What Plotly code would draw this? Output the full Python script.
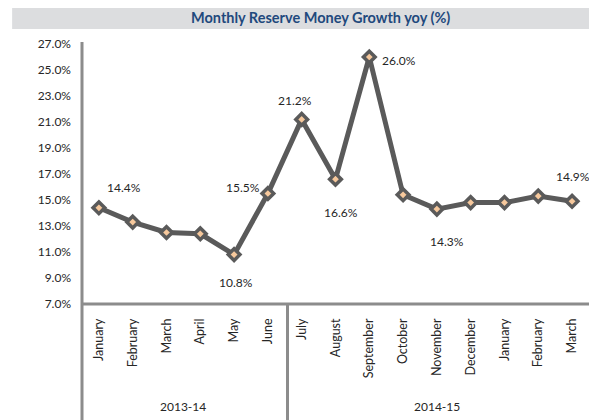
import plotly.graph_objects as go

months = ["January", "February", "March", "April", "May", "June", "July", "August",
          "September", "October", "November", "December", "January", "February", "March"]
growth = [14.4, 13.3, 12.5, 12.4, 10.8, 15.5, 21.2, 16.6, 26.0, 15.4, 14.3, 14.8, 14.8, 15.3, 14.9]
fiscal_years = ["2013-14", "2014-15"]
fy_months = [6, 9]  # number of months in each fiscal-year group
y_ticks = [7, 9, 11, 13, 15, 17, 19, 21, 23, 25, 27]

# which points get a data label, and pixel offset of that label
labelled = {0: (25, 20), 4: (2, -28), 5: (-25, 6), 6: (-7, 19), 7: (6, -33),
            8: (30, -3), 10: (10, -32), 14: (1, 25)}

xs = list(range(len(months)))
line_grey = "#5a5a5a"
axis_grey = "#8c8c8c"
font = "Lato, 'Open Sans', sans-serif"

fig = go.Figure()
fig.add_trace(go.Scatter(
    x=xs, y=growth, mode="lines+markers",
    line=dict(color=line_grey, width=5),
    marker=dict(symbol="diamond", size=9, color="#f6c89c",
                line=dict(color=line_grey, width=3.5)),
    hoverinfo="skip", showlegend=False,
))

for i, (dx, dy) in labelled.items():
    fig.add_annotation(x=xs[i], y=growth[i], text=f"{growth[i]:.1f}%",
                       showarrow=False, xshift=dx, yshift=dy,
                       xanchor="center", yanchor="middle",
                       font=dict(family=font, size=12, color="#262626"))

# fiscal year group labels and dividers
start = 0
for k, (fy, n) in enumerate(zip(fiscal_years, fy_months)):
    centre = start + (n - 1) / 2
    fig.add_annotation(x=centre, y=-0.396, yref="paper", text=fy, showarrow=False,
                       xanchor="center", yanchor="middle",
                       font=dict(family=font, size=12, color="#262626"))
    if k < len(fiscal_years) - 1:
        end = start + n - 0.5 + 0.08
        fig.add_shape(type="line", x0=end, x1=end, y0=0, y1=-0.5, yref="paper",
                      line=dict(color=axis_grey, width=3))
    start += n

# category table frame and y axis line
fig.add_shape(type="line", xref="paper", yref="paper", x0=0, x1=1, y0=0, y1=0,
              line=dict(color=axis_grey, width=3))
fig.add_shape(type="line", xref="paper", yref="paper", x0=0, x1=0, y0=1.008, y1=-0.5,
              line=dict(color=axis_grey, width=3))
fig.add_shape(type="line", xref="paper", yref="paper", x0=1, x1=1, y0=0, y1=-0.5,
              line=dict(color=axis_grey, width=3))

# title band
fig.add_shape(type="rect", xref="paper", yref="paper", x0=-0.137, x1=1.02,
              y0=1.058, y1=1.15, fillcolor="#dcdddf", line=dict(width=0), layer="below")
fig.add_annotation(xref="paper", yref="paper", x=0.467, y=1.1, showarrow=False,
                   xanchor="center", yanchor="middle",
                   text="<b>Monthly Reserve Money Growth yoy (%)</b>",
                   font=dict(family=font, size=14.5, color="#1f497d"))

fig.update_layout(
    width=589, height=412,
    margin=dict(l=74, r=5, t=36, b=116, autoexpand=False),
    paper_bgcolor="white", plot_bgcolor="white",
    font=dict(family=font, size=12, color="#262626"),
    xaxis=dict(range=[-0.5, 14.59], tickvals=xs, ticktext=months, automargin=False,
               tickangle=-90, showgrid=False, zeroline=False, showline=False,
               ticks="", ticklabelstandoff=11, tickfont=dict(size=12.5)),
    yaxis=dict(range=[7, 27], tickvals=y_ticks, ticktext=[f"{v:.1f}%" for v in y_ticks],
               automargin=False, showgrid=False, zeroline=False, showline=False,
               ticks="", ticklabelstandoff=10, tickfont=dict(size=12)),
)

fig.write_html("out.html")
